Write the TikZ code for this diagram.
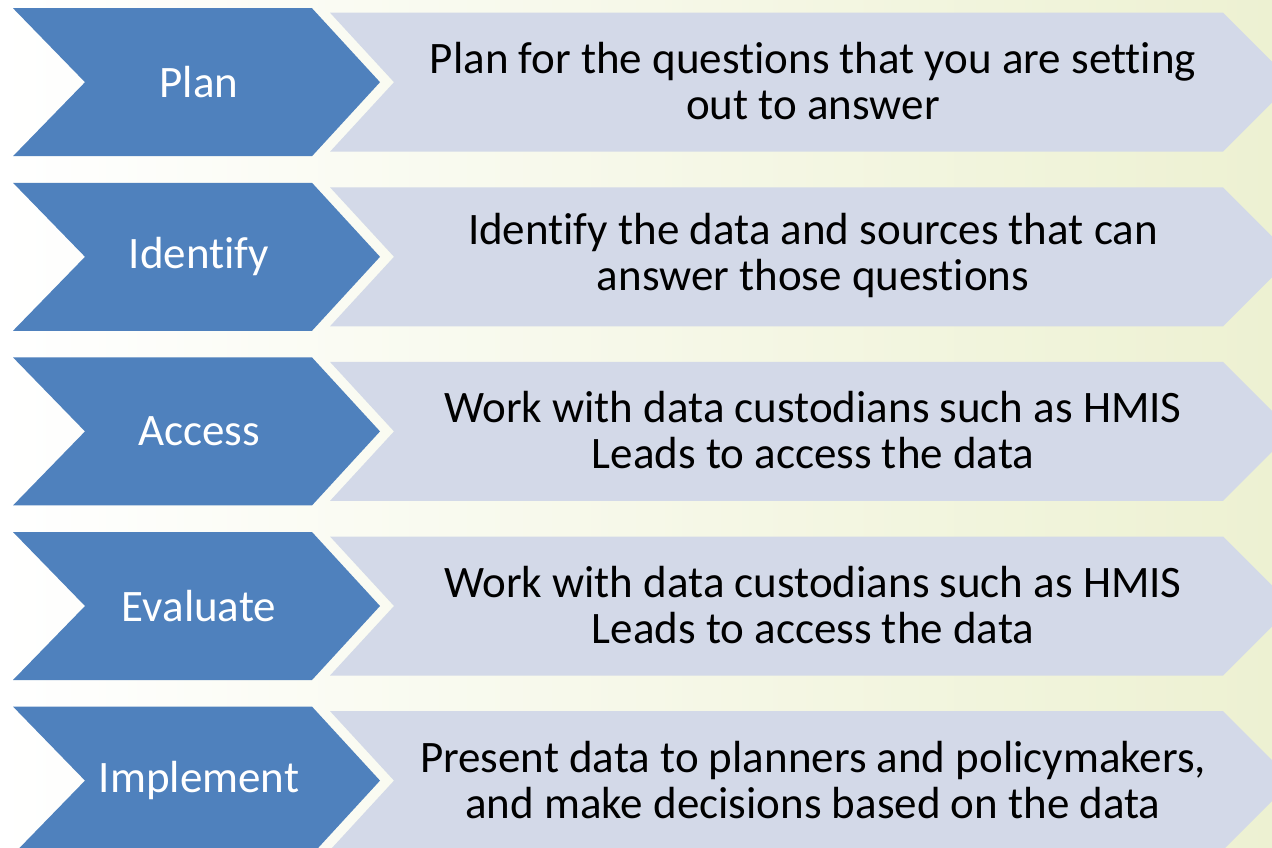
\documentclass[tikz,border=0pt]{standalone}
\usepackage{fontspec}
\setmainfont{Carlito}[Ligatures=NoCommon]
\definecolor{chevblue}{HTML}{4F81BD}
\definecolor{barfill}{HTML}{D3D9E8}
\definecolor{bgright}{HTML}{EDF1D2}
\tikzset{
  chevshape/.style={fill=chevblue, draw=none},
  barshape/.style={fill=barfill, draw=none},
  chevtext/.style={text=white, font=\fontsize{45}{46}\selectfont, inner sep=0pt},
  bartext/.style={text=black, font=\fontsize{45}{46}\selectfont, align=center, inner sep=0pt},
}
\begin{document}
\begin{tikzpicture}[x=1pt, y=-1pt]
\useasboundingbox (0,0) rectangle (1272,848);
\shade[left color=white, right color=bgright] (0,0) rectangle (1272,848);
\begin{scope}
\clip (0,0) rectangle (1272,848);
\foreach \i/\a/\b in {
  0/Plan/{Plan for the questions that you are setting\\out to answer},
  1/Identify/{Identify the data and sources that can\\answer those questions},
  2/Access/{Work with data custodians such as HMIS\\Leads to access the data},
  3/Evaluate/{Work with data custodians such as HMIS\\Leads to access the data},
  4/Implement/{Present data to planners and policymakers,\\and make decisions based on the data}} {
  \pgfmathsetmacro{\cy}{82.2+174.6*\i}
  % bar
  \fill[barshape] (330,\cy-69.5) -- (1223,\cy-69.5) -- (1292.5,\cy) -- (1223,\cy+69.5)
     -- (330,\cy+69.5) -- (394,\cy) -- cycle;
  % chevron
  \fill[chevshape] (13,\cy-74) -- (312,\cy-74) -- (380,\cy) -- (312,\cy+74)
     -- (13,\cy+74) -- (85,\cy) -- cycle;
  \node[chevtext] (c\i) at (199,\cy) {\a};
  \node[bartext] (t\i) at (813,\cy-1) {\b};
}
\end{scope}
\end{tikzpicture}
\end{document}
